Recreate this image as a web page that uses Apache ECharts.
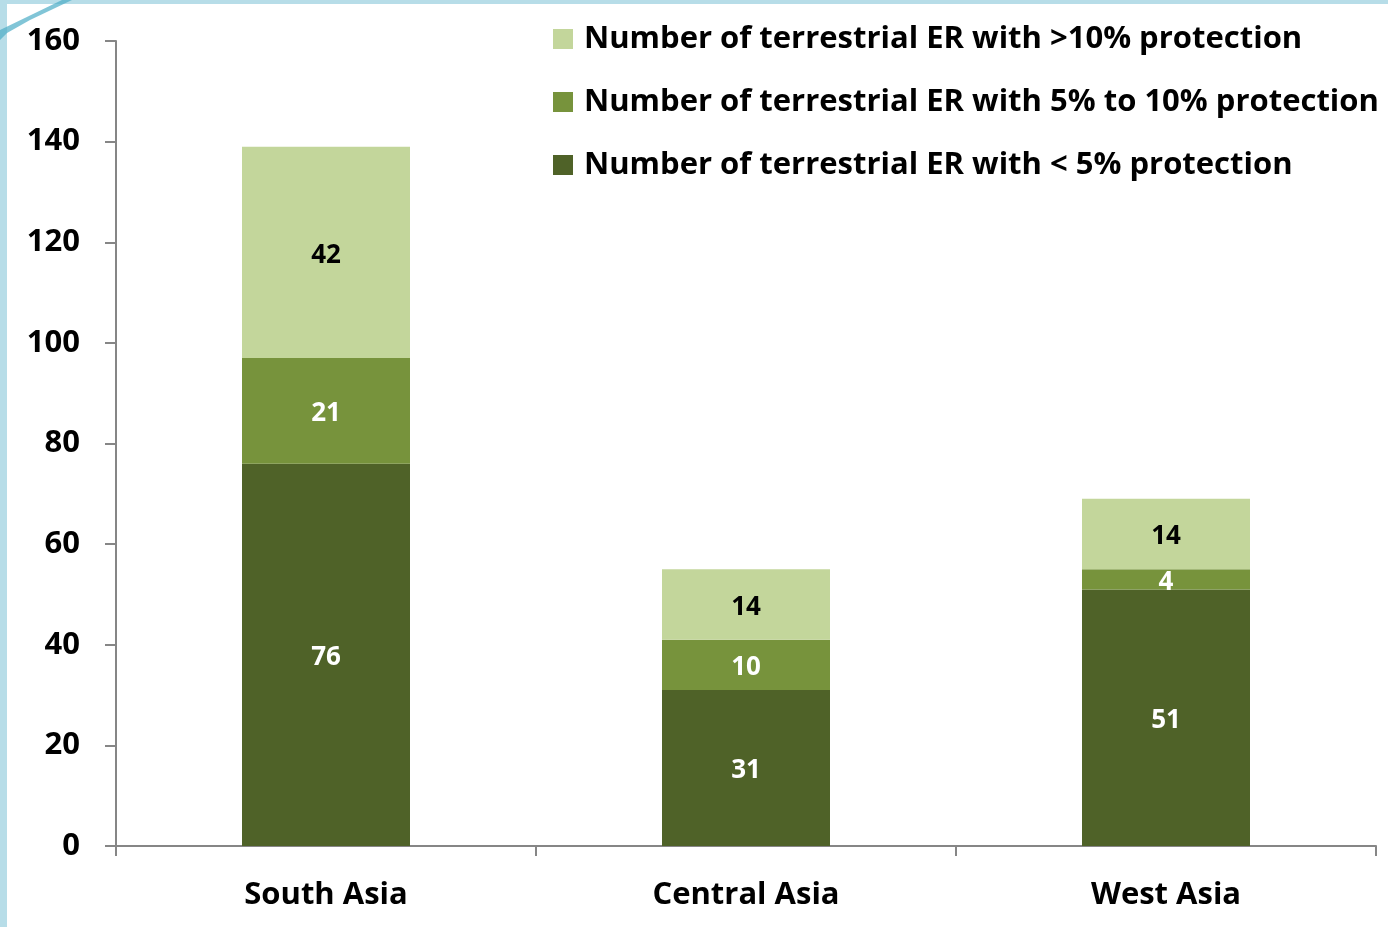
<!DOCTYPE html>
<html>
<head>
<meta charset="utf-8">
<script src="https://cdn.jsdelivr.net/npm/echarts@6/dist/echarts.min.js"></script>
<style>
  html, body { margin: 0; padding: 0; background: #ffffff; }
  #chart { width: 1388px; height: 927px; }
</style>
</head>
<body>
<div id="chart"></div>
<script>
// Terrestrial ecoregions by protection level, per sub-region
const regions = ['South Asia', 'Central Asia', 'West Asia'];
const below5 = [76, 31, 51];
const from5to10 = [21, 10, 4];
const above10 = [42, 14, 14];
const seriesNames = [
  'Number of terrestrial ER with < 5% protection',
  'Number of terrestrial ER with 5% to 10% protection',
  'Number of terrestrial ER with >10% protection'
];
const yTicks = [0, 20, 40, 60, 80, 100, 120, 140, 160];

const FONT = 'Open Sans';
const colors = ['#4f6228', '#77933c', '#c3d69b'];
const labelColors = ['#ffffff', '#ffffff', '#000000'];
const values = [below5, from5to10, above10];

const chart = echarts.init(document.getElementById('chart'), null, { renderer: 'canvas' });

chart.setOption({
  animation: false,
  backgroundColor: '#ffffff',
  textStyle: { fontFamily: FONT },
  graphic: [
    { type: 'rect', left: 0, top: 0, shape: { width: 1388, height: 4 }, style: { fill: '#b7dde8' }, z: 100 },
    { type: 'rect', left: 0, top: 0, shape: { width: 7, height: 927 }, style: { fill: '#b7dde8' }, z: 100 },
    { type: 'polygon', shape: { points: [[0, 40], [0, 30], [62, 0], [72, 0], [30, 20], [7, 33]] }, style: { fill: '#4bacc6', opacity: 0.7 }, z: 101 }
  ],
  legend: {
    data: [seriesNames[2], seriesNames[1], seriesNames[0]],
    orient: 'vertical',
    left: 553,
    top: 18,
    padding: 0,
    itemWidth: 20,
    itemHeight: 20,
    itemGap: 21,
    icon: 'rect',
    textStyle: { fontFamily: FONT, fontWeight: 'bold', fontSize: 31, lineHeight: 42, color: '#000000', padding: [0, 0, 0, 6] }
  },
  grid: { left: 116, right: 12, top: 41, bottom: 81, containLabel: false },
  xAxis: {
    type: 'category',
    data: regions,
    axisLine: { lineStyle: { color: '#868686', width: 2 } },
    axisTick: { show: true, length: 10, lineStyle: { color: '#868686', width: 2 } },
    axisLabel: { fontFamily: FONT, fontWeight: 'bold', fontSize: 31, color: '#000000', margin: 34 }
  },
  yAxis: {
    type: 'value',
    min: yTicks[0],
    max: yTicks[yTicks.length - 1],
    interval: yTicks[1] - yTicks[0],
    splitLine: { show: false },
    axisLine: { show: true, lineStyle: { color: '#868686', width: 2 } },
    axisTick: { show: true, length: 11, lineStyle: { color: '#868686', width: 2 } },
    axisLabel: { fontFamily: FONT, fontWeight: 'bold', fontSize: 31, color: '#000000', margin: 36 }
  },
  series: values.map((v, i) => ({
    name: seriesNames[i],
    type: 'bar',
    stack: 'er',
    barWidth: '40%',
    data: v,
    itemStyle: { color: colors[i] },
    label: {
      show: true,
      position: 'inside',
      offset: [0, 3],
      fontFamily: FONT,
      fontWeight: 'bold',
      fontSize: 26,
      color: labelColors[i]
    }
  }))
});
</script>
</body>
</html>
